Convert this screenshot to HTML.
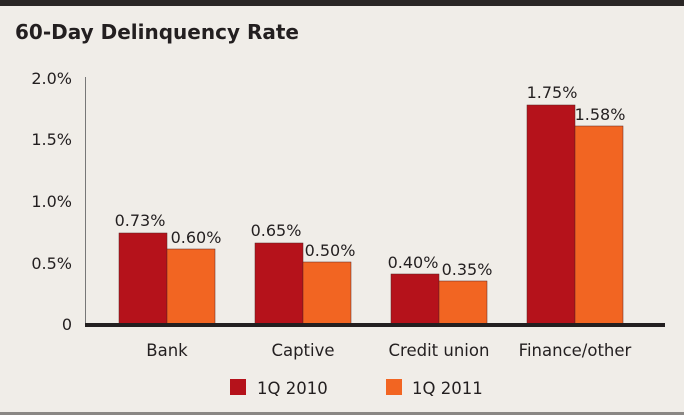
<!DOCTYPE html>
<html><head><style>
body{margin:0;background:#f0ede8;}
svg{display:block;font-family:"DejaVu Sans","Liberation Sans",sans-serif;}
</style></head><body>
<svg width="684" height="415" viewBox="0 0 684 415">
<rect width="684" height="415" fill="#f0ede8"/>
<rect width="684" height="6" fill="#2a2625"/>
<rect y="412" width="684" height="3" fill="#8a8784"/>
<text x="15" y="39" font-size="20" font-weight="bold" fill="#231f20">60-Day Delinquency Rate</text>
<g font-size="16" fill="#231f20" text-anchor="end">
<text x="72" y="84">2.0%</text>
<text x="72" y="145">1.5%</text>
<text x="72" y="207">1.0%</text>
<text x="72" y="269">0.5%</text>
<text x="72" y="330">0</text>
</g>
<line x1="85.5" y1="77" x2="85.5" y2="325" stroke="#777" stroke-width="1"/>
<g stroke="#5a2020" stroke-width="0.5">
<rect x="119" y="233" width="48" height="91" fill="#b5121b"/>
<rect x="167" y="249" width="48" height="75" fill="#f26522"/>
<rect x="255" y="243" width="48" height="81" fill="#b5121b"/>
<rect x="303" y="262" width="48" height="62" fill="#f26522"/>
<rect x="391" y="274" width="48" height="50" fill="#b5121b"/>
<rect x="439" y="281" width="48" height="43" fill="#f26522"/>
<rect x="527" y="105" width="48" height="219" fill="#b5121b"/>
<rect x="575" y="126" width="48" height="198" fill="#f26522"/>
</g>
<rect x="85" y="323" width="580" height="4" fill="#231f20"/>
<g font-size="16" fill="#231f20" text-anchor="middle">
<text x="140" y="226">0.73%</text>
<text x="196" y="243">0.60%</text>
<text x="276" y="236">0.65%</text>
<text x="330" y="256">0.50%</text>
<text x="413" y="268">0.40%</text>
<text x="467" y="275">0.35%</text>
<text x="552" y="98">1.75%</text>
<text x="600" y="120">1.58%</text>
<text x="167" y="356" font-size="16.5">Bank</text>
<text x="303" y="356" font-size="16.5">Captive</text>
<text x="439" y="356" font-size="16.5">Credit union</text>
<text x="575" y="356" font-size="16.5">Finance/other</text>
</g>
<rect x="230" y="379" width="16" height="16" fill="#b5121b"/>
<text x="257" y="394" font-size="16.5" fill="#231f20">1Q 2010</text>
<rect x="386" y="379" width="16" height="16" fill="#f26522"/>
<text x="412" y="394" font-size="16.5" fill="#231f20">1Q 2011</text>
</svg>
</body></html>
